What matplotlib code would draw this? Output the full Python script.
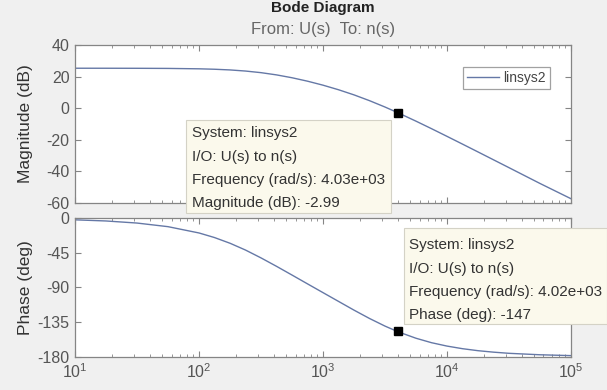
import matplotlib
matplotlib.use("Agg")
import matplotlib.pyplot as plt
from matplotlib.patches import Rectangle
from matplotlib.ticker import LogLocator, NullFormatter
import numpy as np

plt.rcParams["font.family"] = ["Liberation Sans", "DejaVu Sans"]
plt.rcParams["axes.unicode_minus"] = False
plt.rcParams["mathtext.fontset"] = "custom"
plt.rcParams["mathtext.rm"] = "Liberation Sans"

# ---------------------------------------------------------------------------
# Frequency response of linsys2 (rad/s, dB, deg)
# ---------------------------------------------------------------------------
freq = [10, 17.8, 31.6, 56.2, 100, 133, 178, 237, 316, 422, 562, 750, 1000,
        1334, 1780, 2371, 3160, 4030, 5620, 7500, 10000, 13340, 17800, 23710,
        31600, 56200, 100000]
mag_db = [25.3, 25.29, 25.26, 25.18, 24.93, 24.66, 24.22, 23.52, 22.50, 21.08,
          19.28, 17.10, 14.57, 11.68, 8.42, 4.77, 0.75, -2.92, -8.2, -12.96,
          -17.82, -22.74, -27.7, -32.66, -37.63, -47.63, -57.3]
phase_deg = [-2.0, -3.5, -6.2, -10.9, -19.1, -25.0, -32.5, -41.3, -51.5,
             -62.5, -73.8, -85.3, -96.7, -108.1, -119.5, -130.3, -140.2,
             -147.6, -156.0, -161.8, -166.2, -169.6, -172.2, -174.1, -175.6,
             -177.5, -178.6]

# data tip readouts
tip_mag_freq, tip_mag_val = 4.03e3, -2.99
tip_ph_freq, tip_ph_val = 4.02e3, -147

mag_ticks = [-60, -40, -20, 0, 20, 40]
phase_ticks = [-180, -135, -90, -45, 0]

line_color = "#6578a6"
axis_color = "#858585"
tick_color = "#555555"

fig = plt.figure(figsize=(6.07, 3.90), dpi=100, facecolor="#f0f0f0")
ax_m = fig.add_axes([0.1236, 0.4795, 0.8171, 0.4051])
ax_p = fig.add_axes([0.1236, 0.0854, 0.8171, 0.3549])

for ax in (ax_m, ax_p):
    ax.set_xscale("log")
    ax.set_xlim(10, 1e5)
    ax.set_facecolor("white")
    for s in ax.spines.values():
        s.set_color(axis_color)
        s.set_linewidth(0.9)
    ax.tick_params(which="both", direction="in", top=True, right=True,
                   color=axis_color, labelcolor=tick_color, labelsize=11.5)
    ax.tick_params(which="major", length=4, pad=4)
    ax.tick_params(which="minor", length=2)
    ax.xaxis.set_major_locator(LogLocator(base=10, numticks=10))
    ax.xaxis.set_minor_locator(LogLocator(base=10, subs=np.arange(2, 10), numticks=20))
    ax.xaxis.set_minor_formatter(NullFormatter())

# magnitude
ax_m.plot(freq, mag_db, color=line_color, lw=1.0, label="linsys2")
ax_m.plot([tip_mag_freq], [tip_mag_val], marker="s", ms=6, color="black", ls="none")
ax_m.set_ylim(-60, 40)
ax_m.set_yticks(mag_ticks)
ax_m.tick_params(axis="x", labelbottom=False)
ax_m.set_ylabel("Magnitude (dB)", fontsize=12.5, color="#333333")
ax_m.yaxis.set_label_coords(-0.084, 0.5)
leg = ax_m.legend(loc="upper right", bbox_to_anchor=(0.972, 0.905), fontsize=10,
                  frameon=True, fancybox=False, handlelength=2.3,
                  borderpad=0.3, handletextpad=0.3)
leg.get_frame().set_edgecolor("#8a8a8a")
leg.get_frame().set_linewidth(0.9)
for t in leg.get_texts():
    t.set_color("#444444")

# phase
ax_p.plot(freq, phase_deg, color=line_color, lw=1.0)
ax_p.plot([tip_ph_freq], [tip_ph_val], marker="s", ms=6, color="black", ls="none")
ax_p.set_ylim(-180, 0)
ax_p.set_yticks(phase_ticks)
ax_p.set_ylabel("Phase (deg)", fontsize=12.5, color="#333333")
ax_p.yaxis.set_label_coords(-0.084, 0.5)

# titles
fig.text(0.532, 0.98, "Bode Diagram", ha="center", va="center",
         fontsize=11, fontweight="bold", color="#222222")
fig.text(0.532, 0.925, "From: U(s)  To: n(s)", ha="center", va="center",
         fontsize=12, color="#666666")

# data tip boxes
def data_tip(x0, y0, w, h, lines, tx, ty0, dy):
    fig.add_artist(Rectangle((x0 / 607, 1 - (y0 + h) / 390), w / 607, h / 390,
                             transform=fig.transFigure, facecolor="#fbf9ec",
                             edgecolor="#d4d2c6", lw=0.8, zorder=10))
    for i, s in enumerate(lines):
        fig.text(tx / 607, 1 - (ty0 + i * dy) / 390, s, ha="left", va="center",
                 fontsize=11, color="#333333", zorder=11)

data_tip(186, 120, 205, 93,
         ["System: linsys2", "I/O: U(s) to n(s)",
          f"Frequency (rad/s): {tip_mag_freq:.2e}",
          f"Magnitude (dB): {tip_mag_val:.3g}"],
         192, 133, 23.5)
data_tip(404, 228, 203, 96,
         ["System: linsys2", "I/O: U(s) to n(s)",
          f"Frequency (rad/s): {tip_ph_freq:.2e}",
          f"Phase (deg): {tip_ph_val:.3g}"],
         409, 245, 23.5)

fig.savefig("out.png", dpi=100, facecolor=fig.get_facecolor())
